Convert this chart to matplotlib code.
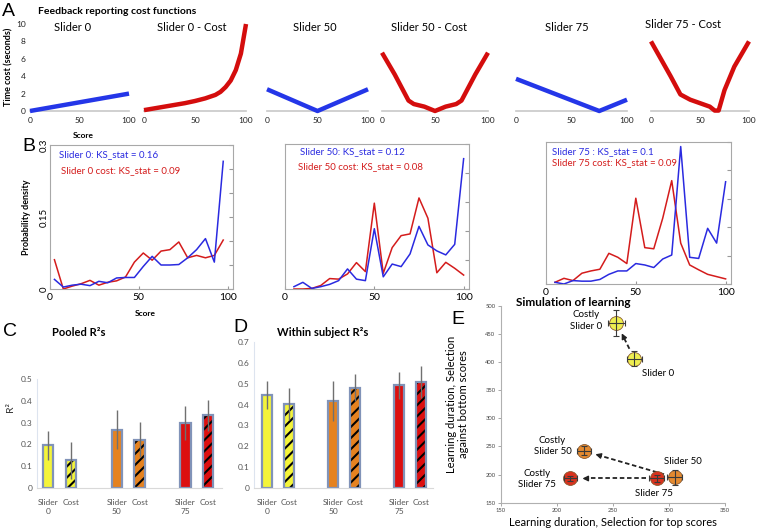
import matplotlib
matplotlib.use('Agg')
import matplotlib.pyplot as plt
import numpy as np

plt.rcParams['font.family'] = ['Lato', 'DejaVu Sans']
plt.rcParams['hatch.linewidth'] = 1.5

# ---------------- data ----------------
# Panel A: cost functions (score -> time cost)
a_titles = ["Slider 0", "Slider 0 - Cost", "Slider 50", "Slider 50 - Cost", "Slider 75", "Slider 75 - Cost"]
s0_x = [0, 100]
s0_y = [0, 2.0]
s0c_x = [0, 10, 20, 30, 40, 50, 60, 70, 75, 80, 85, 90, 95, 100]
s0c_y = [0.1, 0.3, 0.5, 0.7, 0.9, 1.15, 1.45, 1.85, 2.2, 2.75, 3.5, 4.7, 6.6, 10.0]
s50_x = [0, 50, 100]
s50_y = [2.5, 0, 2.5]
s50c_x = [0, 12, 25, 30, 40, 50, 60, 70, 75, 88, 100]
s50c_y = [6.7, 4.2, 1.2, 0.8, 0.5, 0.0, 0.5, 0.8, 1.2, 4.2, 6.7]
s75_x = [0, 75, 100]
s75_y = [3.7, 0, 1.3]
s75c_x = [0, 10, 20, 30, 40, 50, 60, 65, 69, 75, 85, 100]
s75c_y = [8.0, 6.0, 4.0, 1.9, 1.3, 0.9, 0.5, 0.05, 0.05, 2.4, 5.1, 8.0]

# Panel B: score distributions
b1_x = [2.5, 7.5, 12.5, 17.5, 22.5, 27.5, 32.5, 37.5, 42.5, 47.5,
        52.5, 57.5, 62.5, 67.5, 72.5, 77.5, 82.5, 87.5, 92.5, 97.5]
b1_blue = [0.02, 0.004, 0.008, 0.010, 0.007, 0.016, 0.013, 0.023, 0.024, 0.024,
           0.047, 0.068, 0.050, 0.050, 0.051, 0.065, 0.082, 0.105, 0.056, 0.266]
b1_red = [0.061, 0.0, 0.006, 0.011, 0.018, 0.008, 0.014, 0.017, 0.025, 0.056,
          0.075, 0.060, 0.079, 0.082, 0.098, 0.065, 0.070, 0.065, 0.070, 0.102]
b_x = [5, 10, 15, 20, 25, 30, 35, 40, 45, 50, 55, 60, 65, 70, 75, 80, 85, 90, 95, 100]
b2_blue = [0.004, 0.0115, 0.001, 0.004, 0.008, 0.0144, 0.0346, 0.017, 0.0144, 0.104,
           0.021, 0.043, 0.0386, 0.0605, 0.108, 0.076, 0.0657, 0.0588, 0.077, 0.2247]
b2_red = [0.0, 0.0, 0.001, 0.006, 0.018, 0.017, 0.026, 0.0455, 0.030, 0.148,
          0.027, 0.0714, 0.092, 0.095, 0.157, 0.122, 0.028, 0.046, 0.0357, 0.024]
b3_blue = [0.003, 0.0, 0.006, 0.005, 0.005, 0.008, 0.017, 0.023, 0.023, 0.036,
           0.0335, 0.029, 0.044, 0.051, 0.242, 0.047, 0.045, 0.098, 0.072, 0.180]
b3_red = [0.003, 0.010, 0.006, 0.019, 0.023, 0.026, 0.054, 0.047, 0.036, 0.151,
          0.064, 0.062, 0.116, 0.182, 0.072, 0.0335, 0.025, 0.017, 0.013, 0.009]
b_texts = [("Slider 0: KS_stat = 0.16", "Slider 0 cost: KS_stat = 0.09"),
           ("Slider 50: KS_stat = 0.12", "Slider 50 cost: KS_stat = 0.08"),
           ("Slider 75 : KS_stat = 0.1", "Slider 75 cost: KS_stat = 0.09")]

# Panels C and D: R^2 bars
groups = ["0", "50", "75"]
c_slider = [0.195, 0.268, 0.298]
c_slider_err = [0.065, 0.090, 0.077]
c_cost = [0.126, 0.222, 0.334]
c_cost_err = [0.085, 0.081, 0.072]
d_slider = [0.446, 0.419, 0.493]
d_slider_err = [0.066, 0.097, 0.066]
d_cost = [0.401, 0.482, 0.509]
d_cost_err = [0.077, 0.064, 0.077]
bar_colors = ['#f4f43a', '#e5821f', '#dc0f0f']

# Panel E: simulation of learning
e_labels = ["Slider 0", "Costly\nSlider 0", "Slider 50", "Costly\nSlider 50", "Slider 75", "Costly\nSlider 75"]
e_x = [269, 253, 305, 224, 289, 212]
e_y = [406, 470, 195, 242, 193, 193]
e_xerr = [6.5, 7.5, 6.5, 6.5, 6.5, 6.0]
e_yerr = [13, 23, 13, 8, 6, 5]
e_colors = ['#eeee50', '#eeee50', '#e48a30', '#e48a30', '#d8321e', '#d8321e']

# ---------------- figure ----------------
W, H = 757, 528
fig = plt.figure(figsize=(W / 100, H / 100), dpi=100)


def ax_px(x0, y0, x1, y1):
    return fig.add_axes([x0 / W, 1 - y1 / H, (x1 - x0) / W, (y1 - y0) / H])


def ftext(x, y, s, **kw):
    fig.text(x / W, 1 - y / H, s, **kw)


LETTER = dict(family=['Liberation Sans', 'DejaVu Sans'], fontsize=14, va='center', ha='left')

# ---------- Panel A ----------
blue = '#2436e8'
red = '#d40d0d'
a_boxes = [(30, 129), (144, 246), (267, 368), (382, 488), (516, 627), (651, 749)]
a_data = [(s0_x, s0_y, blue), (s0c_x, s0c_y, red), (s50_x, s50_y, blue),
          (s50c_x, s50c_y, red), (s75_x, s75_y, blue), (s75c_x, s75c_y, red)]
a_title_pos = [(0.43, 0.955), (0.47, 0.965), (0.475, 0.955), (0.44, 0.965), (0.46, 0.955), (0.33, 0.99)]
for i, ((x0, x1), (xs, ys, col)) in enumerate(zip(a_boxes, a_data)):
    ax = ax_px(x0, 24, x1, 111)
    ax.plot(xs, ys, color=col, lw=3.2, solid_capstyle='butt', solid_joinstyle='round', clip_on=False, zorder=3)
    ax.set_xlim(0, 100)
    ax.set_ylim(0, 10)
    for s in ['top', 'right', 'left']:
        ax.spines[s].set_visible(False)
    ax.spines['bottom'].set_color('#c8c8c8')
    ax.spines['bottom'].set_linewidth(1.2)
    ax.set_xticks([0, 50, 100])
    ax.tick_params(axis='x', length=0, labelsize=6, pad=4, colors='#222222')
    if i == 0:
        ax.set_yticks([0, 2, 4, 6, 8, 10])
        ax.tick_params(axis='y', length=0, labelsize=6, pad=3, colors='#222222')
    else:
        ax.set_yticks([])
    ax.patch.set_alpha(0)
    ax.text(a_title_pos[i][0], a_title_pos[i][1], a_titles[i], transform=ax.transAxes,
            ha='center', va='center', fontsize=8)

ftext(2, 11, "A", **LETTER)
ftext(38, 11, "Feedback reporting cost functions", fontsize=7.5, fontweight='bold', va='center')
ftext(9, 67, "Time cost (seconds)", rotation=90, fontsize=6.5, fontweight='bold', va='center', ha='center')
ftext(83, 136, "Score", fontsize=6, fontweight='bold', va='center', ha='center')

# ---------- Panel B ----------
b_boxes = [(50, 145, 233, 289), (285, 144, 469, 289), (546, 142, 731, 284)]
b_series = [(b1_x, b1_blue, b1_red), (b_x, b2_blue, b2_red), (b_x, b3_blue, b3_red)]
b_text_pos = [(0.05, 0.93, 0.06, 0.82), (0.08, 0.95, 0.07, 0.845), (0.03, 0.935, 0.03, 0.855)]
b_blue = '#2a2ae0'
b_red = '#d41c1c'
for i, (box, (xs, yb, yr)) in enumerate(zip(b_boxes, b_series)):
    ax = ax_px(*box)
    ax.plot(xs, yr, color=b_red, lw=1.1, zorder=3)
    ax.plot(xs, yb, color=b_blue, lw=1.1, zorder=4)
    ax.set_xlim(0, 103)
    if i == 0:
        ax.set_ylim(0, 0.3)
        ax.set_yticks([0, 0.05, 0.1, 0.15, 0.2, 0.25, 0.3])
        ax.set_yticklabels(["0", "", "", "0.15", "", "", "0.3"], rotation=90, va='center')
        ax.tick_params(axis='y', direction='in', right=True, left=False, length=3,
                       labelsize=7, pad=1, color='#999999')
    else:
        ax.set_ylim(0, 0.25)
        ax.set_yticks([0, 0.05, 0.1, 0.15, 0.2, 0.25])
        ax.set_yticklabels([])
        ax.tick_params(axis='y', direction='in', right=True, left=False, length=3, color='#999999')
    ax.set_xticks([0, 50, 100])
    ax.tick_params(axis='x', direction='in', length=2, labelsize=7.5, pad=3, color='#999999')
    for s in ax.spines.values():
        s.set_color('#a8a8a8')
        s.set_linewidth(0.8)
    tx = b_text_pos[i]
    ax.text(tx[0], tx[1], b_texts[i][0], transform=ax.transAxes, color=b_blue, fontsize=7, va='center')
    ax.text(tx[2], tx[3], b_texts[i][1], transform=ax.transAxes, color=b_red, fontsize=7, va='center')

ftext(22, 147, "B", **LETTER)
ftext(27, 217, "Probability density", rotation=90, fontsize=6.5, fontweight='bold', va='center', ha='center')
ftext(145, 313, "Score", fontsize=6, fontweight='bold', va='center', ha='center')


# ---------- Panels C and D ----------
def bar_panel(ax, sl, sl_err, co, co_err, ymax, ystep):
    pos_s = [0, 3, 6]
    pos_c = [1, 4, 7]
    w = 0.45
    edge = '#8193b8'
    for k in range(3):
        col = bar_colors[k]
        # slider bar
        ax.bar(pos_s[k], sl[k], width=w, color=col, edgecolor=edge, linewidth=1.6, zorder=2)
        # cost bar: coloured base, black hatch, outline
        ax.bar(pos_c[k], co[k], width=w, color=col, edgecolor='none', linewidth=0, zorder=2)
        ax.bar(pos_c[k], co[k], width=w, color='none', edgecolor='black', hatch='///', linewidth=0, zorder=3)
        ax.bar(pos_c[k], co[k], width=w, color='none', edgecolor=edge, linewidth=1.6, zorder=4)
        ax.errorbar(pos_s[k], sl[k], yerr=sl_err[k], fmt='none', ecolor='#707070', elinewidth=1.0, capsize=0, zorder=5)
        ax.errorbar(pos_c[k], co[k], yerr=co_err[k], fmt='none', ecolor='#707070', elinewidth=1.0, capsize=0, zorder=5)
    ax.set_ylim(0, ymax)
    ax.set_yticks(np.arange(0, ymax + 1e-9, ystep))
    ax.set_yticklabels(["0"] + ["%.1f" % v for v in np.arange(ystep, ymax + 1e-9, ystep)])
    ax.set_xticks(pos_s + pos_c)
    ax.set_xticklabels(["Slider\n" + g for g in groups] + ["Cost"] * 3, va='top', linespacing=1.3)
    ax.tick_params(length=0, labelsize=6, colors='#555555')
    ax.tick_params(axis='x', pad=8)
    for s in ['top', 'right']:
        ax.spines[s].set_visible(False)
    ax.spines['left'].set_color('#dde4ef')
    ax.spines['bottom'].set_color('#d9d9d9')
    ax.patch.set_alpha(0)


axC = ax_px(37, 379.3, 222, 487.7)
bar_panel(axC, c_slider, c_slider_err, c_cost, c_cost_err, 0.5, 0.1)
axC.set_xlim(-0.48, 7.6)

axD = ax_px(254, 342.3, 433, 487.7)
bar_panel(axD, d_slider, d_slider_err, d_cost, d_cost_err, 0.7, 0.1)
axD.set_xlim(-0.6, 7.55)

ftext(3, 331, "C", **LETTER)
ftext(52, 333, "Pooled R\u00b2s", fontsize=8, fontweight='bold', va='center')
ftext(10, 407, "R\u00b2", rotation=90, fontsize=7.5, va='center', ha='center', color='#333333')
ftext(233, 327, "D", **LETTER)
ftext(277, 332, "Within subject R\u00b2s", fontsize=8, fontweight='bold', va='center')

# ---------- Panel E ----------
axE = ax_px(501, 305.7, 725, 502.7)
axE.set_xlim(150, 350)
axE.set_ylim(150, 500)
axE.set_xticks(np.arange(150, 351, 50))
axE.set_yticks(np.arange(150, 501, 50))
axE.tick_params(labelsize=4.2, length=2, width=0.6, color='#999999', pad=2, colors='#444444')
for s in ['top', 'right']:
    axE.spines[s].set_visible(False)
for s in ['left', 'bottom']:
    axE.spines[s].set_color('#b0b0b0')
    axE.spines[s].set_linewidth(0.8)

for i in range(len(e_x)):
    axE.plot(e_x[i], e_y[i], 'o', ms=10, mfc=e_colors[i], mec='#8a5a30', mew=0.6, zorder=3)
    axE.errorbar(e_x[i], e_y[i], xerr=e_xerr[i], yerr=e_yerr[i], fmt='none', ecolor='#3a3a3a',
                 elinewidth=0.8, capsize=2.5, capthick=0.8, zorder=4)

# arrows from slider points to costly points
inv = axE.transData.inverted()
for a_i, b_i in [(0, 1), (2, 3), (4, 5)]:
    pa = axE.transData.transform((e_x[a_i], e_y[a_i]))
    pb = axE.transData.transform((e_x[b_i], e_y[b_i]))
    d = pb - pa
    u = d / np.hypot(*d)
    tail = pa + u * 11
    head = pb - u * 12
    neck = head - u * 6
    t_d, n_d, h_d = inv.transform(tail), inv.transform(neck), inv.transform(head)
    axE.plot([t_d[0], n_d[0]], [t_d[1], n_d[1]], color='#222222', lw=1.3, ls=(0, (2.5, 1.5)), zorder=2)
    axE.annotate('', xy=h_d, xytext=n_d,
                 arrowprops=dict(arrowstyle='-|>', color='#222222', lw=1.0, mutation_scale=8,
                                 shrinkA=0, shrinkB=0), zorder=2)

e_offsets = [(5.3, -10.4, 'left'), (-10, 1.5, 'right'), (5.8, 11.2, 'center'),
             (-9, 3.6, 'right'), (-2, -10.8, 'center'), (-10.3, -0.5, 'right')]
for i, (dx, dy, ha) in enumerate(e_offsets):
    axE.annotate(e_labels[i], (e_x[i], e_y[i]), xytext=(dx, dy), textcoords='offset points',
                 ha=ha, va='center', fontsize=7, multialignment='center', linespacing=1.35)

axE.set_xlabel("Learning duration, Selection for top scores", fontsize=8, labelpad=3)
axE.set_ylabel("Learning duration, Selection\nagainst bottom scores", fontsize=8, labelpad=12, linespacing=1.1)
ftext(451, 319, "E", **LETTER)
ftext(516, 303, "Simulation of learning", fontsize=8.5, fontweight='bold', va='center')

fig.savefig("out.png", dpi=100)
